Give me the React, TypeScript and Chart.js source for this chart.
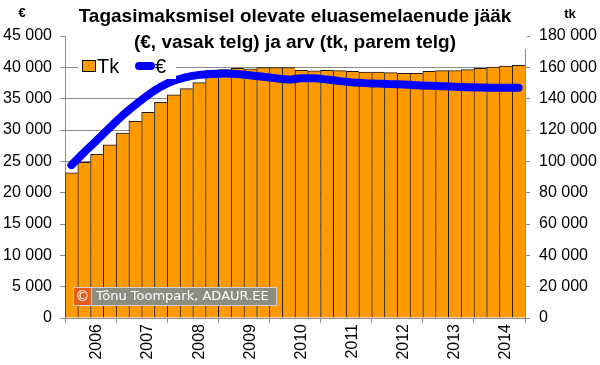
import React, { useEffect, useRef } from "react";
import { Chart, registerables } from "chart.js";

Chart.register(...registerables);

const years = ["2006", "2007", "2008", "2009", "2010", "2011", "2012", "2013", "2014"];
const quarters = ["Q1", "Q2", "Q3", "Q4"];
const categories = years.flatMap((y) => quarters.map((q) => `${y} ${q}`));

// Number of loans (tk), right axis
const countTk = [
  92700, 99400, 104500, 110600,
  118100, 125500, 131300, 137700,
  142500, 146400, 150200, 158300,
  158500, 159400, 159100, 159800,
  159800, 159800, 158100, 157700,
  158100, 157900, 157400, 157000,
  157000, 156600, 156200, 156200,
  157400, 157900, 157900, 158500,
  159400, 160200, 160800, 161300,
];

// Outstanding balance (€), left axis
const balanceEur = [
  24400, 26440, 28400, 30370,
  32300, 34000, 35600, 36900,
  37850, 38450, 38800, 38950,
  39000, 38950, 38750, 38500,
  38250, 38050, 38250, 38250,
  38050, 37800, 37600, 37480,
  37400, 37320, 37250, 37150,
  37050, 36980, 36900, 36820,
  36770, 36750, 36730, 36750,
];

const titleLines = [
  "Tagasimaksmisel olevate eluasemelaenude jääk",
  "(€, vasak telg) ja arv (tk, parem telg)",
];
const leftUnit = "€";
const rightUnit = "tk";
const legendBar = "Tk";
const legendLine = "€";
const copyrightText = "Tõnu Toompark, ADAUR.EE";

const fmt = (v: number) => String(v).replace(/\B(?=(\d{3})+(?!\d))/g, " ");

const BAR_COLOR = "#FF9900";
const LINE_COLOR = "#0000FF";
const GRID = "#8c8c8c";
const FONT = "'Liberation Sans', Arial, sans-serif";

const overlayPlugin = {
  id: "overlay",
  afterDraw(chart: any) {
    const ctx = chart.ctx as CanvasRenderingContext2D;
    ctx.save();
    // title background
    ctx.fillStyle = "#ffffff";
    ctx.fillRect(66, 0, 461, 49);
    ctx.fillStyle = "#000";
    ctx.textAlign = "center";
    ctx.textBaseline = "middle";
    ctx.font = `bold 19px ${FONT}`;
    ctx.fillText(titleLines[0], 295, 17);
    ctx.fillText(titleLines[1], 295, 43);
    // axis units
    ctx.font = `bold 13px ${FONT}`;
    ctx.fillText(leftUnit, 22, 13);
    ctx.fillText(rightUnit, 570, 14);

    // legend
    ctx.fillStyle = "#ffffff";
    ctx.fillRect(78, 55, 98, 24);
    ctx.fillStyle = BAR_COLOR;
    ctx.fillRect(82.5, 60.5, 13, 11);
    ctx.strokeStyle = "#000";
    ctx.lineWidth = 1;
    ctx.strokeRect(82.5, 60.5, 13, 11);
    ctx.fillStyle = "#000";
    ctx.textAlign = "left";
    ctx.textBaseline = "alphabetic";
    ctx.font = `20px ${FONT}`;
    ctx.fillText(legendBar, 97, 73);
    ctx.strokeStyle = LINE_COLOR;
    ctx.lineWidth = 8;
    ctx.lineCap = "round";
    ctx.beginPath();
    ctx.moveTo(139, 66);
    ctx.lineTo(151, 66);
    ctx.stroke();
    ctx.fillText(legendLine, 155, 73);

    // copyright box
    ctx.fillStyle = "#d0d0d0";
    ctx.fillRect(73, 287, 204, 19);
    ctx.fillStyle = "#E2601C";
    ctx.fillRect(74, 288, 17, 17);
    ctx.fillStyle = "#8d8d7f";
    ctx.fillRect(92, 288, 184, 17);
    ctx.fillStyle = "#ffffff";
    ctx.font = `13px 'DejaVu Sans', sans-serif`;
    ctx.textBaseline = "middle";
    ctx.textAlign = "center";
    ctx.font = `14px 'DejaVu Sans', sans-serif`;
    ctx.fillText("©", 82.5, 297);
    ctx.textAlign = "left";
    ctx.font = `13px 'DejaVu Sans', sans-serif`;
    ctx.fillText(copyrightText, 96, 297);
    ctx.restore();
  },
};

export default function App() {
  const ref = useRef<HTMLCanvasElement | null>(null);
  useEffect(() => {
    document.body.style.margin = "0";
    const canvas = ref.current!;
    const chart = new Chart(canvas, {
      type: "bar",
      data: {
        labels: categories,
        datasets: [
          {
            type: "line",
            label: legendLine,
            data: balanceEur,
            yAxisID: "yL",
            borderColor: LINE_COLOR,
            backgroundColor: LINE_COLOR,
            borderWidth: 8,
            pointRadius: 0,
            cubicInterpolationMode: "monotone",
            borderCapStyle: "round",
            borderJoinStyle: "round",
            order: 0,
          } as any,
          {
            type: "bar",
            label: legendBar,
            data: countTk,
            yAxisID: "yR",
            backgroundColor: BAR_COLOR,
            borderColor: "#1a1a1a",
            borderWidth: { top: 1, left: 1, right: 0, bottom: 0 },
            borderSkipped: false,
            categoryPercentage: 1,
            barPercentage: 1,
            order: 1,
          } as any,
        ],
      },
      options: {
        animation: false,
        responsive: false,
        devicePixelRatio: 1,
        layout: { padding: { top: 36, left: 0, right: 0, bottom: 0 } },
        plugins: {
          legend: { display: false },
          tooltip: { enabled: false },
          title: { display: false },
        },
        scales: {
          x: {
            type: "category",
            offset: true,
            afterFit: (s: any) => {
              s.height = 47;
            },
            border: { color: GRID, width: 1 },
            grid: {
              offset: true,
              drawOnChartArea: false,
              drawTicks: true,
              tickLength: 5,
              color: (c: any) =>
                c.type === "tick" && c.index % 4 !== 0 ? "rgba(0,0,0,0)" : GRID,
            },
            ticks: {
              autoSkip: false,
              maxRotation: 90,
              minRotation: 90,
              padding: 1,
              color: "#000",
              font: { family: FONT, size: 16 },
              callback: (_v: any, i: number) => (i % 4 === 2 ? categories[i].slice(0, 4) : ""),
            },
          },
          yL: {
            position: "left",
            min: 0,
            max: 45000,
            afterFit: (s: any) => {
              s.width = 65;
            },
            border: { color: GRID, width: 1 },
            grid: { color: GRID, tickLength: 5, drawTicks: true },
            ticks: {
              stepSize: 5000,
              padding: 8,
              color: "#000",
              font: { family: FONT, size: 16 },
              callback: (v: any) => fmt(Number(v)),
            },
          },
          yR: {
            position: "right",
            min: 0,
            max: 180000,
            afterFit: (s: any) => {
              s.width = 75;
            },
            border: { color: GRID, width: 1 },
            grid: { drawOnChartArea: false, color: GRID, tickLength: 5 },
            ticks: {
              stepSize: 20000,
              padding: 9,
              color: "#000",
              font: { family: FONT, size: 16 },
              callback: (v: any) => fmt(Number(v)),
            },
          },
        },
      } as any,
      plugins: [overlayPlugin],
    });
    return () => chart.destroy();
  }, []);
  return (
    <div style={{ position: "fixed", left: 0, top: 0, width: 600, height: 365, background: "#fff" }}>
      <canvas ref={ref} width={600} height={365} style={{ width: 600, height: 365, display: "block" }} />
    </div>
  );
}
